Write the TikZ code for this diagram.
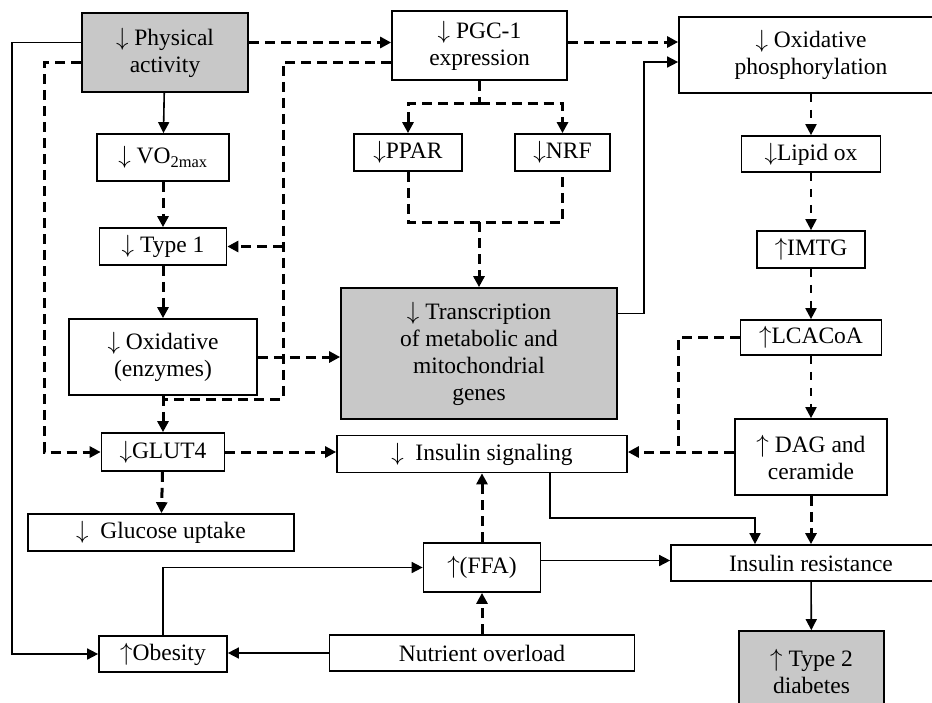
\documentclass[tikz,border=0pt]{standalone}
\usepackage{fontspec}
\setmainfont{Liberation Serif}
\usetikzlibrary{arrows.meta,calc}
\definecolor{boxgray}{RGB}{200,200,200}
\newcommand{\dn}{$\downarrow$}
\newcommand{\upa}{$\uparrow$}
\begin{document}
\begin{tikzpicture}[x=1pt,y=-1pt,
  box/.style={draw,line width=1.7pt,align=center,inner sep=2pt,
    font=\fontsize{23.5}{27}\selectfont},
  gbox/.style={box,fill=boxgray},
  tip/.style={-{Triangle[length=11pt,width=11pt]}},
  sol/.style={line width=1.6pt},
  dsh/.style={line width=3pt,dash pattern=on 10pt off 6pt},
  tdsh/.style={line width=2pt,dash pattern=on 8pt off 8pt}]
\useasboundingbox (0,0) rectangle (932,702);
% nodes
\node[gbox,minimum width=166pt,minimum height=79pt] (pa) at (165,52.5) {\dn\ Physical\\activity};
\node[box,minimum width=175pt,minimum height=69pt] (pgc) at (479.5,45.5) {\dn\ PGC-1\\expression};
\node[box,minimum width=264pt,minimum height=76pt] (oxp) at (811,55) {\dn\ Oxidative\\phosphorylation};
\node[box,minimum width=132pt,minimum height=47pt] (vo) at (163,157.5) {\dn\ VO\textsubscript{2max}};
\node[box,minimum width=127pt,minimum height=37pt] (t1) at (163,246.5) {\dn\ Type 1};
\node[box,minimum width=108pt,minimum height=37pt] (ppar) at (408,152.5) {\dn PPAR};
\node[box,minimum width=95pt,minimum height=37pt] (nrf) at (562.5,152.5) {\dn NRF};
\node[gbox,minimum width=276pt,minimum height=131pt] (tr) at (479,353.5) {\dn\ Transcription\\of metabolic and\\mitochondrial\\genes};
\node[box,minimum width=188pt,minimum height=76pt] (oxe) at (163,357) {\dn\ Oxidative\\(enzymes)};
\node[box,minimum width=123pt,minimum height=38pt] (glut) at (163,452) {\dn GLUT4};
\node[box,minimum width=290pt,minimum height=37pt] (ins) at (482,454) {\dn\ \ Insulin signaling};
\node[box,minimum width=266pt,minimum height=37pt] (glu) at (161,532.5) {\dn\ \ Glucose uptake};
\node[box,minimum width=139pt,minimum height=36pt] (lip) at (811,154) {\dn Lipid ox};
\node[box,minimum width=108pt,minimum height=37pt] (imtg) at (811,249.5) {\upa IMTG};
\node[box,minimum width=141pt,minimum height=35pt] (lca) at (811,337.5) {\upa LCACoA};
\node[box,minimum width=152pt,minimum height=76pt] (dag) at (811,457) {\upa\ DAG and\\ceramide};
\node[box,minimum width=117pt,minimum height=49pt] (ffa) at (482,567.5) {\upa(FFA)};
\node[box,minimum width=280pt,minimum height=36pt] (ir) at (811,563) {Insulin resistance};
\node[box,minimum width=128pt,minimum height=36pt] (ob) at (163,654) {\upa Obesity};
\node[box,minimum width=305pt,minimum height=36pt] (nut) at (482,653) {Nutrient overload};
\node[gbox,minimum width=145pt,minimum height=80pt] (t2) at (811.5,671) {\upa\ Type 2\\diabetes};
% left column
\draw[sol,tip] (pa) -- (vo);
\draw[dsh,tip] (vo) -- (t1);
\draw[dsh,tip] (t1) -- (oxe);
\draw[dsh,tip] (oxe) -- (glut);
\draw[dsh,tip] (glut) -- (glu);
% from physical activity
\draw[sol,tip] ($(pa.west)+(0,-10)$) -| ($(ob.west)+(-86,0)$) -- (ob.west);
\draw[dsh,tip] ($(pa.west)+(0,10)$) -| ($(glut.west)+(-56,0)$) -- (glut.west);
\draw[dsh,tip] ($(pa.east)+(0,-10)$) -- ($(pgc.west)+(0,-3)$);
% from PGC-1
\coordinate (j1) at (283,399);
\draw[dsh] ($(pgc.west)+(0,16.5)$) -| (j1) -- (j1 -| glut.north);
\draw[dsh,tip] (j1 |- t1.east) -- (t1.east);
\draw[dsh] (pgc.south) -- ++(0,23) coordinate (j3);
\draw[dsh,tip] (j3) -| (ppar.north);
\draw[dsh,tip] (j3) -| (nrf.north);
\coordinate (j4) at ($(tr.north)+(0,-65)$);
\draw[dsh] (ppar.south) |- (j4) -| (nrf.south);
\draw[dsh,tip] (j4) -- (tr.north);
\draw[dsh,tip] ($(pgc.east)+(0,-3.5)$) -- ($(oxp.west)+(0,-13)$);
\draw[sol,tip] ($(tr.east)+(0,-40)$) -- ++(26,0) |- ($(oxp.west)+(0,7)$);
\draw[dsh,tip] (oxe.east) -- (oxe.east -| tr.west);
\draw[dsh,tip] (glut.east) -- (glut.east -| ins.west);
% right column
\draw[tdsh,tip] (oxp) -- (lip);
\draw[tdsh,tip] (lip) -- (imtg);
\draw[tdsh,tip] (imtg) -- (lca);
\draw[tdsh,tip] (lca) -- (dag);
\coordinate (d1) at ($(dag.west)+(0,-5)$);
\draw[dsh,tip] (d1) -- (d1 -| ins.east);
\draw[dsh] (lca.west) -| ($(d1)+(-56,0)$);
\draw[dsh,tip] (dag) -- (ir);
% bottom
\draw[sol,tip] ($(ins.south)+(68,0)$) |- ($(ir.north)+(-56,-26)$) -- ($(ir.north)+(-56,0)$);
\draw[dsh,tip] (ffa) -- (ins);
\draw[dsh,tip] (nut) -- (ffa);
\draw[sol,tip] (nut.west) -- (nut.west -| ob.east);
\draw[sol,tip] (ob.north) |- (ffa.west);
\coordinate (f1) at ($(ffa.east)+(0,-7)$);
\draw[sol,tip] (f1) -- (f1 -| ir.west);
\draw[sol,tip] (ir) -- (t2);
\end{tikzpicture}
\end{document}
